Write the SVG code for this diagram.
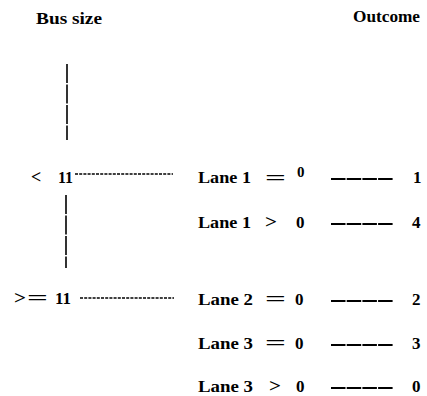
<svg xmlns="http://www.w3.org/2000/svg" width="427" height="396" viewBox="0 0 427 396">
  <style>
    .dot { stroke: #000; stroke-width: 1.6; stroke-dasharray: 3 1.2; fill: none; }
    .solid { stroke: #000; stroke-width: 2; stroke-dasharray: 14.5 1.2; fill: none; }
    .trunk { stroke: #000; stroke-width: 1.6; stroke-dasharray: 19 1.5; fill: none; }
  </style>

  <g font-family="Liberation Serif" font-weight="bold" fill="#000">
    <!-- column headers -->
    <g id="header-bus-size" font-size="16"><text x="36" y="24" textLength="66" lengthAdjust="spacingAndGlyphs">Bus size</text></g>
    <g id="header-outcome" font-size="16"><text x="353" y="22" textLength="67" lengthAdjust="spacingAndGlyphs">Outcome</text></g>

    <!-- bus size branches -->
    <g id="branch-lt11" font-size="17">
      <text x="31" y="183" font-size="18">&lt;</text>
      <text x="58" y="183" textLength="15" lengthAdjust="spacingAndGlyphs">11</text>
    </g>
    <g id="branch-ge11" font-size="17">
      <text x="14" y="304" font-size="18" textLength="12" lengthAdjust="spacingAndGlyphs">&gt;</text>
      <text x="27" y="304" font-size="18" textLength="21" lengthAdjust="spacingAndGlyphs">=</text>
      <text x="55" y="304" textLength="16" lengthAdjust="spacingAndGlyphs">11</text>
    </g>

    <!-- lane conditions -->
    <g id="cond-lane1-eq0" font-size="17">
      <text x="198" y="183" textLength="53" lengthAdjust="spacingAndGlyphs">Lane 1</text>
      <text x="265" y="184" font-size="18" textLength="21" lengthAdjust="spacingAndGlyphs">=</text>
      <text x="297" y="177" font-size="15">0</text>
    </g>
    <g id="cond-lane1-gt0" font-size="17">
      <text x="198" y="228" textLength="53" lengthAdjust="spacingAndGlyphs">Lane 1</text>
      <text x="265" y="228" font-size="18" textLength="12" lengthAdjust="spacingAndGlyphs">&gt;</text>
      <text x="296" y="228">0</text>
    </g>
    <g id="cond-lane2-eq0" font-size="17">
      <text x="198" y="305" textLength="55" lengthAdjust="spacingAndGlyphs">Lane 2</text>
      <text x="265" y="305" font-size="18" textLength="21" lengthAdjust="spacingAndGlyphs">=</text>
      <text x="295" y="305">0</text>
    </g>
    <g id="cond-lane3-eq0" font-size="17">
      <text x="198" y="349" textLength="55" lengthAdjust="spacingAndGlyphs">Lane 3</text>
      <text x="265" y="349" font-size="18" textLength="21" lengthAdjust="spacingAndGlyphs">=</text>
      <text x="295" y="349">0</text>
    </g>
    <g id="cond-lane3-gt0" font-size="17">
      <text x="198" y="392" textLength="55" lengthAdjust="spacingAndGlyphs">Lane 3</text>
      <text x="269" y="392" font-size="18" textLength="12" lengthAdjust="spacingAndGlyphs">&gt;</text>
      <text x="296" y="392">0</text>
    </g>

    <!-- outcomes -->
    <g id="outcome-1" font-size="17"><text x="413" y="183">1</text></g>
    <g id="outcome-4" font-size="17"><text x="412" y="228">4</text></g>
    <g id="outcome-2" font-size="17"><text x="412" y="305">2</text></g>
    <g id="outcome-3" font-size="17"><text x="412" y="349">3</text></g>
    <g id="outcome-0" font-size="17"><text x="412" y="392">0</text></g>
  </g>

  <!-- connectors -->
  <g id="connectors">
    <line class="trunk" x1="67" y1="64" x2="67" y2="140"/>
    <line class="trunk" x1="66" y1="195" x2="66" y2="268"/>
    <line class="dot" x1="75" y1="174" x2="173" y2="174"/>
    <line class="dot" x1="80" y1="298" x2="174" y2="298"/>
    <line class="solid" x1="331" y1="179" x2="393" y2="179"/>
    <line class="solid" x1="331" y1="224" x2="393" y2="224"/>
    <line class="solid" x1="331" y1="301" x2="393" y2="301"/>
    <line class="solid" x1="331" y1="345" x2="393" y2="345"/>
    <line class="solid" x1="331" y1="388" x2="393" y2="388"/>
  </g>
</svg>
